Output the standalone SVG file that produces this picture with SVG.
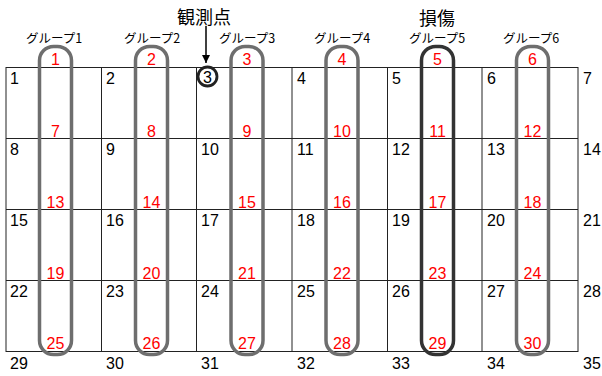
<svg xmlns="http://www.w3.org/2000/svg" width="602" height="376" viewBox="0 0 602 376">
<style>
.grid{stroke:#222;stroke-width:1;fill:none}
.num{font-family:"Liberation Sans",Arial,sans-serif;font-size:16px;fill:#000}
.red{font-family:"Liberation Sans",Arial,sans-serif;font-size:16px;fill:#ff0000;text-anchor:middle}
.pill{fill:none;stroke:#6e6e6e;stroke-width:3.5}
.pill.dmg{stroke:#333}
.glabel{font-family:"Noto Sans CJK JP","Noto Sans",sans-serif;font-size:12.5px;fill:#000;text-anchor:middle}
.title{font-family:"Noto Sans CJK JP","Noto Sans",sans-serif;font-size:18px;fill:#000;text-anchor:middle}
</style>
<defs>
<marker id="ah" markerWidth="8" markerHeight="10" refX="8" refY="4" orient="auto" markerUnits="userSpaceOnUse" viewBox="0 0 8 8">
<path d="M0,0 L8,4 L0,8 Z" fill="#000"/>
</marker>
</defs>
<rect width="602" height="376" fill="#fff"/>
<g id="grid">
<rect class="grid" x="6" y="67.5" width="572" height="284"/>
<line class="grid" x1="6" y1="138.5" x2="578" y2="138.5"/>
<line class="grid" x1="6" y1="209.5" x2="578" y2="209.5"/>
<line class="grid" x1="6" y1="280.5" x2="578" y2="280.5"/>
<line class="grid" x1="101.5" y1="67.5" x2="101.5" y2="351.5"/>
<line class="grid" x1="196.5" y1="67.5" x2="196.5" y2="351.5"/>
<line class="grid" x1="292" y1="67.5" x2="292" y2="351.5"/>
<line class="grid" x1="387.5" y1="67.5" x2="387.5" y2="351.5"/>
<line class="grid" x1="482" y1="67.5" x2="482" y2="351.5"/>
</g>
<g id="cell-numbers">
<text class="num" x="10" y="84">1</text><text class="num" x="106" y="84">2</text><text class="num" x="207.5" y="82.5" text-anchor="middle">3</text><text class="num" x="297" y="84">4</text><text class="num" x="392" y="84">5</text><text class="num" x="487" y="84">6</text><text class="num" x="583" y="84">7</text>
<text class="num" x="10" y="155">8</text><text class="num" x="106" y="155">9</text><text class="num" x="201" y="155">10</text><text class="num" x="297" y="155">11</text><text class="num" x="392" y="155">12</text><text class="num" x="487" y="155">13</text><text class="num" x="583" y="155">14</text>
<text class="num" x="10" y="226">15</text><text class="num" x="106" y="226">16</text><text class="num" x="201" y="226">17</text><text class="num" x="297" y="226">18</text><text class="num" x="392" y="226">19</text><text class="num" x="487" y="226">20</text><text class="num" x="583" y="226">21</text>
<text class="num" x="10" y="297">22</text><text class="num" x="106" y="297">23</text><text class="num" x="201" y="297">24</text><text class="num" x="297" y="297">25</text><text class="num" x="392" y="297">26</text><text class="num" x="487" y="297">27</text><text class="num" x="583" y="297">28</text>
<text class="num" x="10" y="369">29</text><text class="num" x="106" y="369">30</text><text class="num" x="201" y="369">31</text><text class="num" x="297" y="369">32</text><text class="num" x="392" y="369">33</text><text class="num" x="487" y="369">34</text><text class="num" x="583" y="369">35</text>
</g>
<g id="group1">
<rect class="pill" x="39.5" y="46.5" width="32" height="308" rx="14"/>
<text class="glabel" x="54" y="43">グループ1</text>
<text class="red" x="55.5" y="65">1</text><text class="red" x="55.5" y="136.5">7</text><text class="red" x="55.5" y="207.5">13</text><text class="red" x="55.5" y="278.5">19</text><text class="red" x="55.5" y="349">25</text>
</g>
<g id="group2">
<rect class="pill" x="135.5" y="46.5" width="32" height="308" rx="14"/>
<text class="glabel" x="152" y="43">グループ2</text>
<text class="red" x="151.5" y="65">2</text><text class="red" x="151.5" y="136.5">8</text><text class="red" x="151.5" y="207.5">14</text><text class="red" x="151.5" y="278.5">20</text><text class="red" x="151.5" y="349">26</text>
</g>
<g id="group3">
<rect class="pill" x="231" y="46.5" width="32" height="308" rx="14"/>
<text class="glabel" x="247" y="43">グループ3</text>
<text class="red" x="247" y="65">3</text><text class="red" x="247" y="136.5">9</text><text class="red" x="247" y="207.5">15</text><text class="red" x="247" y="278.5">21</text><text class="red" x="247" y="349">27</text>
</g>
<g id="group4">
<rect class="pill" x="326" y="46.5" width="32" height="308" rx="14"/>
<text class="glabel" x="342" y="43">グループ4</text>
<text class="red" x="342" y="65">4</text><text class="red" x="342" y="136.5">10</text><text class="red" x="342" y="207.5">16</text><text class="red" x="342" y="278.5">22</text><text class="red" x="342" y="349">28</text>
</g>
<g id="group5">
<rect class="pill dmg" x="421.5" y="46.5" width="32" height="308" rx="14"/>
<text class="glabel" x="437" y="43">グループ5</text>
<text class="title" x="437" y="25">損傷</text>
<text class="red" x="437.5" y="65">5</text><text class="red" x="437.5" y="136.5">11</text><text class="red" x="437.5" y="207.5">17</text><text class="red" x="437.5" y="278.5">23</text><text class="red" x="437.5" y="349">29</text>
</g>
<g id="group6">
<rect class="pill" x="516.5" y="46.5" width="32" height="308" rx="14"/>
<text class="glabel" x="531" y="43">グループ6</text>
<text class="red" x="532.5" y="65">6</text><text class="red" x="532.5" y="136.5">12</text><text class="red" x="532.5" y="207.5">18</text><text class="red" x="532.5" y="278.5">24</text><text class="red" x="532.5" y="349">30</text>
</g>
<g id="observation-point">
<circle cx="207.5" cy="76.5" r="9.5" fill="none" stroke="#222" stroke-width="2.8"/>
<text class="title" x="204" y="24">観測点</text>
</g>
<g id="connectors">
<line x1="206" y1="26" x2="206" y2="63" stroke="#000" stroke-width="1.5" marker-end="url(#ah)"/>
</g>
</svg>
